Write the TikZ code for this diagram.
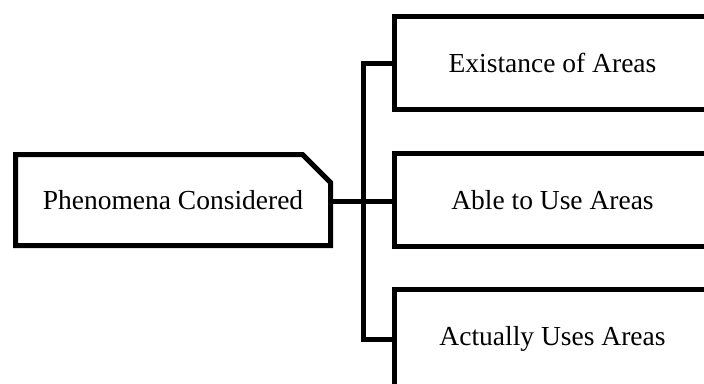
\documentclass[tikz,border=0pt]{standalone}
\usepackage{fontspec}
\setmainfont{Liberation Serif}
\usetikzlibrary{shapes.misc,positioning}
\begin{document}
\begin{tikzpicture}[x=1pt,y=-1pt,line width=5pt,
every node/.style={draw,font=\fontsize{27.5}{33}\selectfont},
area/.style={rectangle,minimum width=316pt,minimum height=93pt}]
\clip (0,0) rectangle (704,383);
\node[chamfered rectangle,chamfered rectangle corners=north east,
chamfered rectangle sep=15pt,minimum width=315pt,minimum height=91pt] (phen) at (173,200) {Phenomena Considered};
\node[area] (exist) at (552.5,63) {Existance of Areas};
\node[area] (able) at (552.5,200) {Able to Use Areas};
\node[area,minimum height=100pt] (uses) at (552.5,339) {Actually Uses Areas};
\coordinate (split) at (363.5,201);
\draw (phen.east |- split) -- (split);
\draw (exist.west) -| (split) |- (uses.west);
\draw (split) -- (able.west |- split);
\end{tikzpicture}
\end{document}
